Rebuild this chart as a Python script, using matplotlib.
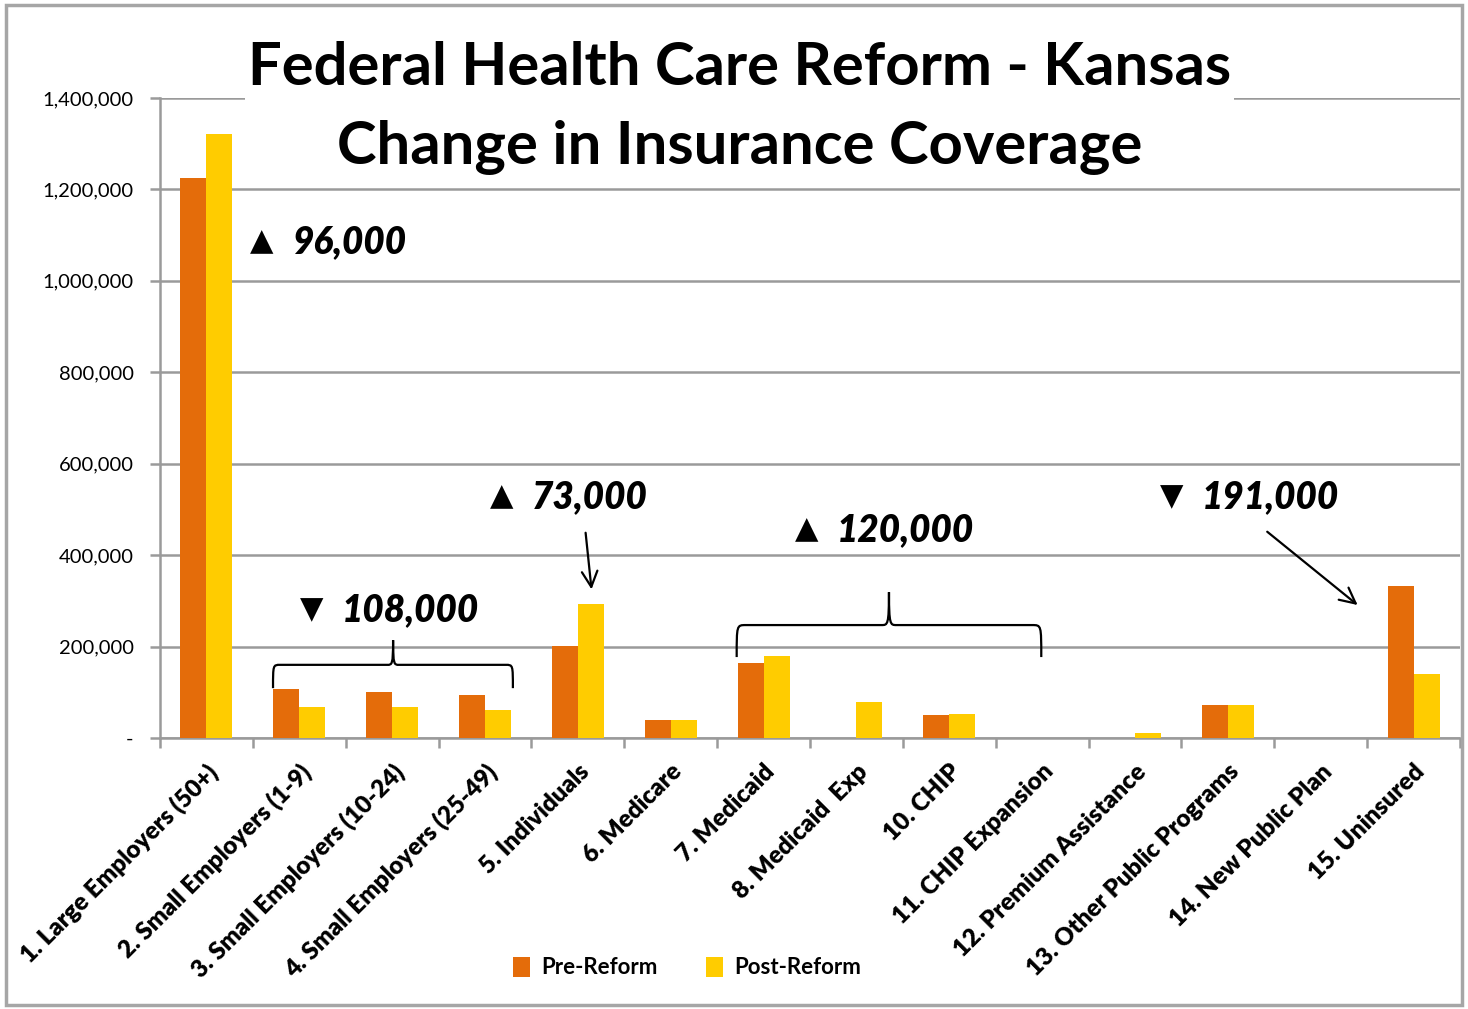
"""Kansas health care reform: insurance coverage before and after."""

import matplotlib
matplotlib.use("Agg")
import matplotlib.pyplot as plt
from matplotlib.patches import Rectangle, PathPatch
from matplotlib.path import Path
from matplotlib.ticker import FuncFormatter

plt.rcParams["font.family"] = ["Lato", "DejaVu Sans"]

categories = [
    "1. Large Employers (50+)", "2. Small Employers (1-9)",
    "3. Small Employers (10-24)", "4. Small Employers (25-49)",
    "5. Individuals", "6. Medicare", "7. Medicaid", "8. Medicaid  Exp",
    "10. CHIP", "11. CHIP Expansion", "12. Premium Assistance",
    "13. Other Public Programs", "14. New Public Plan", "15. Uninsured",
]
pre_reform = [1225000, 107000, 101000, 93000, 202000, 40000, 163000,
              0, 50000, 0, 0, 72000, 0, 333000]
post_reform = [1321000, 67000, 67000, 62000, 294000, 40000, 179000,
               79000, 53000, 0, 10000, 72000, 0, 141000]

# change callouts: (symbol, text, x, y)
callouts = [
    ("\u25B2", "96,000", 0.47, 1085000),
    ("\u25BC", "108,000", 1.01, 280000),
    ("\u25B2", "73,000", 3.05, 527000),
    ("\u25B2", "120,000", 6.34, 455000),
    ("\u25BC", "191,000", 10.27, 527000),
]

PRE_COLOR = "#E46C0A"
POST_COLOR = "#FFCC00"
GRID = "#9a9a9a"


def brace(ax, x0, x1, xm, y, ytip, ypeak):
    w = (x1 - x0) * 0.03
    verts = [
        (x0, ytip), (x0, y), (x0, y), (x0 + w, y),
        (xm - w * 0.8, y),
        (xm - w * 0.15, y), (xm, y), (xm, ypeak),
        (xm, y), (xm + w * 0.15, y), (xm + w * 0.8, y),
        (x1 - w, y),
        (x1, y), (x1, y), (x1, ytip),
    ]
    codes = [Path.MOVETO, Path.CURVE4, Path.CURVE4, Path.CURVE4,
             Path.LINETO,
             Path.CURVE4, Path.CURVE4, Path.CURVE4,
             Path.CURVE4, Path.CURVE4, Path.CURVE4,
             Path.LINETO,
             Path.CURVE4, Path.CURVE4, Path.CURVE4]
    ax.add_patch(PathPatch(Path(verts, codes), fill=False, lw=1.6,
                           edgecolor="black", clip_on=False, zorder=5))


fig = plt.figure(figsize=(14.68, 10.09), dpi=100)
fig.patches.append(Rectangle((0.004, 0.004), 0.992, 0.991,
                             transform=fig.transFigure, fill=False,
                             edgecolor="#a6a6a6", lw=2.5))
ax = fig.add_axes([0.109, 0.2686, 0.8856, 0.6343])

x = list(range(len(categories)))
bw = 0.28
ax.bar([i - bw / 2 for i in x], pre_reform, width=bw, color=PRE_COLOR,
       label="Pre-Reform", zorder=3)
ax.bar([i + bw / 2 for i in x], post_reform, width=bw, color=POST_COLOR,
       label="Post-Reform", zorder=3)

ax.set_xlim(-0.5, len(categories) - 0.5)
ax.set_ylim(0, 1400000)
ax.set_yticks(range(0, 1400001, 200000))
ax.yaxis.set_major_formatter(
    FuncFormatter(lambda v, _: "-" if v == 0 else f"{int(v):,}"))
ax.yaxis.grid(True, color=GRID, lw=1.8, zorder=0)
ax.set_axisbelow(True)
for side in ("top", "right"):
    ax.spines[side].set_visible(False)
for side in ("left", "bottom"):
    ax.spines[side].set_color(GRID)
    ax.spines[side].set_linewidth(1.8)

ax.tick_params(axis="x", which="minor", length=0, pad=16)
ax.tick_params(axis="x", which="major", length=7, width=1.8, color=GRID)
ax.tick_params(axis="y", length=7, width=1.8, color=GRID, labelsize=14.5,
               pad=12)
ax.set_xticks([i - 0.5 for i in x] + [len(categories) - 0.5])
ax.set_xticklabels([])
ax.set_xticks(x, minor=True)
ax.set_xticklabels(categories, minor=True, rotation=45, ha="right",
                   va="top", rotation_mode="anchor", fontsize=17.5,
                   fontweight="heavy")

fig.text(0.504, 0.893,
         "Federal Health Care Reform - Kansas\nChange in Insurance Coverage",
         ha="center", va="center", fontsize=43, fontweight="bold",
         linespacing=1.55,
         bbox=dict(facecolor="white", edgecolor="none", pad=2))

for sym, txt, cx, cy in callouts:
    ax.text(cx, cy, sym, fontsize=22, va="center", ha="left",
            family="DejaVu Sans", zorder=6)
    ax.annotate(txt, xy=(cx, cy), xytext=(30, 0), textcoords="offset points",
                fontsize=26.5, fontweight="heavy", fontstyle="italic",
                va="center", ha="left", zorder=6)

brace(ax, 0.717, 3.30, 2.01, 160000, 109000, 214000)
brace(ax, 5.71, 8.99, 7.35, 247000, 177000, 319000)

arrow = dict(arrowstyle="->", lw=1.6, color="black", mutation_scale=28)
ax.annotate("", xy=(4.15, 319000), xytext=(4.08, 455000), arrowprops=arrow)
ax.annotate("", xy=(12.42, 287000), xytext=(11.40, 455000),
            arrowprops=arrow)

fig.legend(loc="center", bbox_to_anchor=(0.468, 0.041), ncol=2,
           frameon=False, handlelength=0.75, handleheight=1.0,
           columnspacing=2.2, handletextpad=0.5,
           prop=dict(size=16, weight="bold"))

fig.savefig("out.png", dpi=100, facecolor="white")
